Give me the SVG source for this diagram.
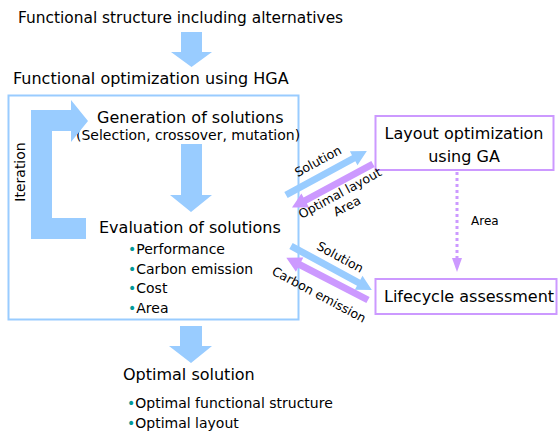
<svg xmlns="http://www.w3.org/2000/svg" xmlns:xlink="http://www.w3.org/1999/xlink" width="559" height="434" viewBox="0 0 559 434">
<style>
text{font-family:"DejaVu Sans","Liberation Sans",sans-serif;fill:#000}
.t16{font-size:16px}
.t14{font-size:14px}
.lbl{font-size:12.5px}
.b{fill:#009999}
.bluebox{fill:none;stroke:#99CCFF;stroke-width:2}
.purbox{fill:#fff;stroke:#CC99FF;stroke-width:2}
.blue{fill:#99CCFF}
.pur{fill:#CC99FF}
</style>
<defs>
<path id="darrow" d="M0,-3.5 H77 V-8 L92,0 L77,8 V3.5 H0 Z"/>
</defs>
<rect width="559" height="434" fill="#fff"/>

<g id="n-input">
<text class="t16" x="18" y="23" style="font-size:15.4px">Functional structure including alternatives</text>
</g>

<g id="n-hga">
<text class="t16" x="13" y="84">Functional optimization using HGA</text>
<rect class="bluebox" x="8.5" y="95.5" width="290" height="224"/>
</g>

<g id="n-generation">
<text class="t16" x="97" y="123">Generation of solutions</text>
<text class="t14" x="76" y="140">(Selection, crossover, mutation)</text>
</g>

<g id="n-evaluation">
<text class="t16" x="99" y="233">Evaluation of solutions</text>
<text class="t14" x="128" y="254"><tspan class="b">•</tspan>Performance</text>
<text class="t14" x="128" y="273.7"><tspan class="b">•</tspan>Carbon emission</text>
<text class="t14" x="128" y="293.3"><tspan class="b">•</tspan>Cost</text>
<text class="t14" x="128" y="313"><tspan class="b">•</tspan>Area</text>
</g>

<g id="n-output">
<text class="t16" x="123" y="380">Optimal solution</text>
<text class="t14" x="127" y="408"><tspan class="b">•</tspan>Optimal functional structure</text>
<text class="t14" x="127" y="427.5"><tspan class="b">•</tspan>Optimal layout</text>
</g>

<g id="n-layout">
<rect class="purbox" x="375.5" y="116" width="178" height="54"/>
<text class="t16" x="464" y="139" text-anchor="middle">Layout optimization</text>
<text class="t16" x="464" y="161.7" text-anchor="middle">using GA</text>
</g>

<g id="n-lca">
<rect class="purbox" x="375.5" y="279" width="181" height="35"/>
<text class="t16" x="384" y="302">Lifecycle assessment</text>
</g>

<g id="connectors">
<path class="blue" d="M181,32 H202 V52 H212 L191.5,67 L171,52 H181 Z"/>
<path class="blue" d="M181,144 H202 V195 H212 L191,212 L170,195 H181 Z"/>
<path class="blue" d="M180,326 H202 V346 H212 L191,363 L169,346 H180 Z"/>
<path class="blue" d="M31,110 H71 V100 L88,121 L71,142 V131 H52 V218 H86 V239 H31 Z"/>
<text class="t14" transform="translate(25,172) rotate(-90)" text-anchor="middle">Iteration</text>

<use xlink:href="#darrow" class="blue" transform="translate(286,195) rotate(-28.5)"/>
<use xlink:href="#darrow" class="pur" transform="translate(373,164) rotate(151.7)"/>
<use xlink:href="#darrow" class="blue" transform="translate(291,246) rotate(28.5)"/>
<use xlink:href="#darrow" class="pur" transform="translate(368,300) rotate(-152.6)"/>

<text class="lbl" transform="translate(320,165) rotate(-28.5)" text-anchor="middle">Solution</text>
<text class="lbl" transform="translate(342,197) rotate(-28.5)" text-anchor="middle">Optimal layout</text>
<text class="lbl" transform="translate(349,210) rotate(-28.5)" text-anchor="middle">Area</text>
<text class="lbl" transform="translate(338,261) rotate(28.5)" text-anchor="middle">Solution</text>
<text class="lbl" transform="translate(317,298.5) rotate(28)" text-anchor="middle">Carbon emission</text>

<line x1="457" y1="172" x2="457" y2="259" stroke="#CC99FF" stroke-width="3" stroke-dasharray="3 3"/>
<polygon class="pur" points="452,258 462,258 457,272"/>
<text x="471" y="225" style="font-size:12px">Area</text>
</g>
</svg>
